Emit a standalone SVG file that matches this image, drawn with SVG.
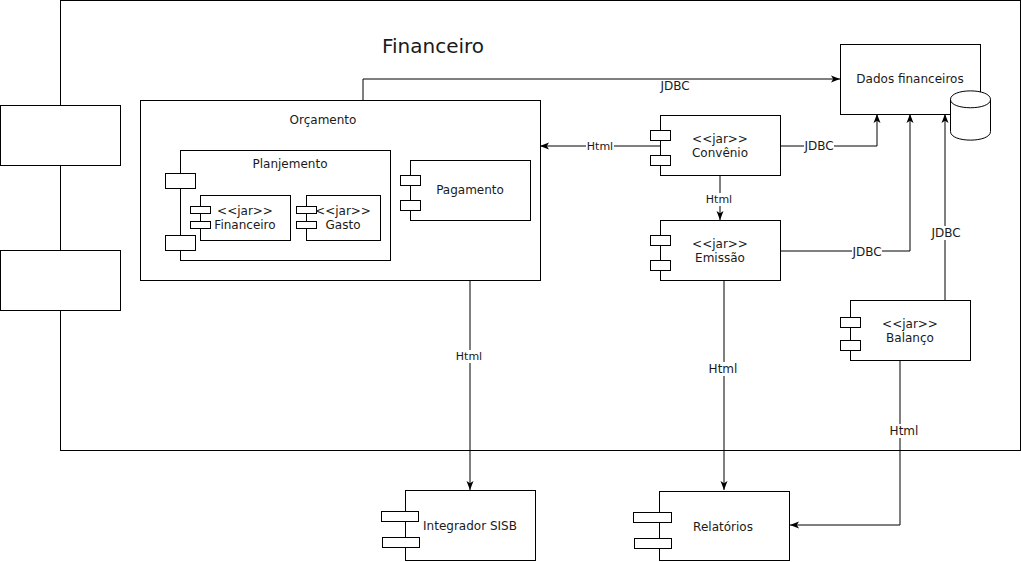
<svg xmlns="http://www.w3.org/2000/svg" width="1021" height="562" viewBox="0 0 1021 562">
<style>
.box{fill:#fff;stroke:#000;stroke-width:1}
.port{fill:#fff;stroke:#000;stroke-width:1}
text{font-family:"DejaVu Sans",Verdana,sans-serif;font-size:12px;fill:#1a1a1a;text-anchor:middle;dominant-baseline:central}
.title{font-size:20px}
.s11{font-size:11px}
.edge{fill:none;stroke:#000;stroke-width:1}
.lbg{fill:#fff}
</style>
<defs>
<marker id="arr" markerUnits="userSpaceOnUse" markerWidth="9" markerHeight="9" viewBox="0 0 9 9" refX="9" refY="4.5" orient="auto">
<path d="M0,1 L9,4.5 L0,8 L2.2,4.5 Z" fill="#000"/>
</marker>
</defs>

<g id="financeiro-container">
<rect class="box" x="60.5" y="0.5" width="960" height="450"/>
<rect class="port" x="0.5" y="105.5" width="120" height="60"/>
<rect class="port" x="0.5" y="250.5" width="120" height="60"/>
<text class="title" x="433" y="46">Financeiro</text>
</g>

<g id="connectors">
<path class="edge" d="M363,100 V79 H840" marker-end="url(#arr)"/>
<text x="675" y="86">JDBC</text>

<path class="edge" d="M660,146 H540" marker-end="url(#arr)"/>
<rect class="lbg" x="586" y="140" width="28" height="13"/>
<text class="s11" x="600" y="146.5">Html</text>

<path class="edge" d="M780,146 H877 V114" marker-end="url(#arr)"/>
<rect class="lbg" x="804" y="139" width="30" height="14"/>
<text x="819" y="146">JDBC</text>

<path class="edge" d="M720,175 V220" marker-end="url(#arr)"/>
<rect class="lbg" x="706" y="193" width="28" height="13"/>
<text class="s11" x="719" y="199.5">Html</text>

<path class="edge" d="M780,251 H910 V114" marker-end="url(#arr)"/>
<rect class="lbg" x="852" y="245" width="30" height="14"/>
<text x="867" y="252">JDBC</text>

<path class="edge" d="M945,300 V114" marker-end="url(#arr)"/>
<rect class="lbg" x="931" y="226" width="30" height="14"/>
<text x="946" y="233">JDBC</text>

<path class="edge" d="M724,280 V490" marker-end="url(#arr)"/>
<rect class="lbg" x="708" y="362" width="30" height="14"/>
<text x="723" y="369">Html</text>

<path class="edge" d="M470,220 V490" marker-end="url(#arr)"/>
<rect class="lbg" x="455" y="350" width="28" height="13"/>
<text class="s11" x="469" y="356.5">Html</text>

<path class="edge" d="M900,360 V525 H790" marker-end="url(#arr)"/>
<rect class="lbg" x="889" y="424" width="30" height="14"/>
<text x="904" y="431">Html</text>
</g>

<g id="orcamento">
<rect class="box" x="140.5" y="100.5" width="400" height="180"/>
<text x="323" y="120">Orçamento</text>
</g>

<g id="planejamento">
<rect class="box" x="180.5" y="150.5" width="210" height="110"/>
<rect class="port" x="165.5" y="173.5" width="30" height="15"/>
<rect class="port" x="165.5" y="235.5" width="30" height="15"/>
<text x="290" y="164">Planjemento</text>
</g>

<g id="jar-financeiro">
<rect class="box" x="200.5" y="195.5" width="90" height="45"/>
<rect class="port" x="190.5" y="206.5" width="20" height="7"/>
<rect class="port" x="190.5" y="221.5" width="20" height="7"/>
<text x="245" y="211">&lt;&lt;jar&gt;&gt;</text>
<text x="245" y="225">Financeiro</text>
</g>

<g id="jar-gasto">
<rect class="box" x="306.5" y="195.5" width="74" height="45"/>
<rect class="port" x="296.5" y="206.5" width="20" height="7"/>
<rect class="port" x="296.5" y="221.5" width="20" height="7"/>
<text x="343" y="211">&lt;&lt;jar&gt;&gt;</text>
<text x="343" y="225">Gasto</text>
</g>

<g id="pagamento">
<rect class="box" x="410.5" y="160.5" width="120" height="60"/>
<rect class="port" x="400.5" y="175.5" width="20" height="10"/>
<rect class="port" x="400.5" y="200.5" width="20" height="10"/>
<text x="470" y="190">Pagamento</text>
</g>

<g id="dados-financeiros">
<rect class="box" x="840.5" y="44.5" width="140" height="70"/>
<text x="910" y="79">Dados financeiros</text>
<path class="box" d="M950.5,99.5 C950.5,88 990.5,88 990.5,99.5 V131.5 C990.5,143 950.5,143 950.5,131.5 Z"/>
<path fill="none" stroke="#000" d="M950.5,99.5 C950.5,110.5 990.5,110.5 990.5,99.5"/>
</g>

<g id="convenio">
<rect class="box" x="660.5" y="115.5" width="120" height="60"/>
<rect class="port" x="650.5" y="130.5" width="20" height="10"/>
<rect class="port" x="650.5" y="155.5" width="20" height="10"/>
<text x="720" y="139">&lt;&lt;jar&gt;&gt;</text>
<text x="720" y="153">Convênio</text>
</g>

<g id="emissao">
<rect class="box" x="660.5" y="220.5" width="120" height="60"/>
<rect class="port" x="650.5" y="235.5" width="20" height="10"/>
<rect class="port" x="650.5" y="260.5" width="20" height="10"/>
<text x="720" y="244">&lt;&lt;jar&gt;&gt;</text>
<text x="720" y="258">Emissão</text>
</g>

<g id="balanco">
<rect class="box" x="850.5" y="300.5" width="120" height="60"/>
<rect class="port" x="840.5" y="317.5" width="20" height="10"/>
<rect class="port" x="840.5" y="340.5" width="20" height="10"/>
<text x="910" y="324">&lt;&lt;jar&gt;&gt;</text>
<text x="910" y="338">Balanço</text>
</g>

<g id="integrador-sisb">
<rect class="box" x="405.5" y="490.5" width="130" height="70"/>
<rect class="port" x="381.5" y="511.5" width="37" height="10"/>
<rect class="port" x="382.5" y="537.5" width="37" height="10"/>
<text x="470" y="526">Integrador SISB</text>
</g>

<g id="relatorios">
<rect class="box" x="659.5" y="491.5" width="130" height="69"/>
<rect class="port" x="633.5" y="512.5" width="38" height="10"/>
<rect class="port" x="634.5" y="538.5" width="37" height="10"/>
<text x="723" y="527">Relatórios</text>
</g>
</svg>
